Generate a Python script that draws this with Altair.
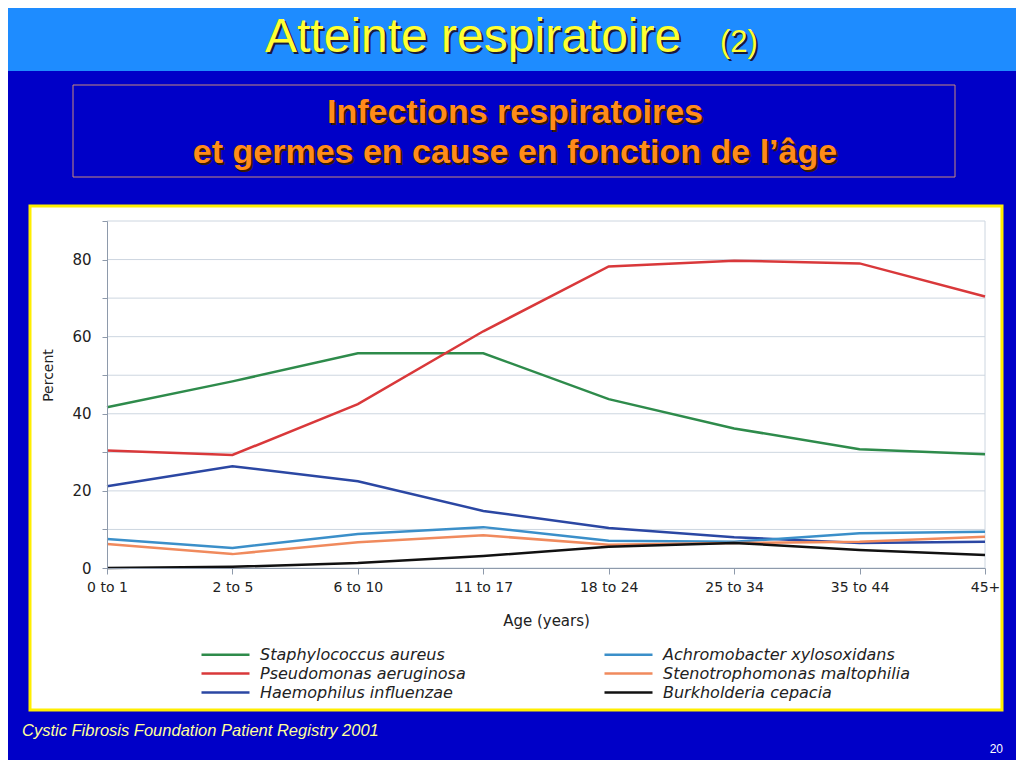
import altair as alt
import pandas as pd

ages = ["0 to 1", "2 to 5", "6 to 10", "11 to 17", "18 to 24", "25 to 34", "35 to 44", "45+"]

germs = ["Staphylococcus aureus", "Pseudomonas aeruginosa", "Haemophilus influenzae",
         "Achromobacter xylosoxidans", "Stenotrophomonas maltophilia", "Burkholderia cepacia"]
germ_colors = ["#2e8b4b", "#d9383a", "#2b47a3", "#3b8fc9", "#f08a5d", "#111111"]

staph = [41.7, 48.4, 55.7, 55.7, 43.8, 36.2, 30.8, 29.5]
pseudo = [30.5, 29.3, 42.5, 61.4, 78.2, 79.7, 79.0, 70.4]
haemo = [21.2, 26.4, 22.5, 14.8, 10.4, 8.0, 6.5, 6.8]
achromo = [7.5, 5.2, 8.8, 10.6, 7.1, 6.8, 9.0, 9.4]
steno = [6.2, 3.6, 6.7, 8.5, 6.0, 6.5, 6.8, 8.1]
burk = [0.0, 0.3, 1.3, 3.1, 5.5, 6.5, 4.7, 3.4]

grid_vals = [0, 10, 20, 30, 40, 50, 60, 70, 80, 90]

series = [staph, pseudo, haemo, achromo, steno, burk]
rows = []
for name, vals in zip(germs, series):
    for a, v in zip(ages, vals):
        rows.append({"age": a, "pct": v, "germ": name})
df = pd.DataFrame(rows)

W, H = 878, 347
PAD = {"left": 99, "top": 213, "right": 31, "bottom": 192}

one = pd.DataFrame({"k": [0]})


def rect(x, x2, y, y2, fill, stroke=None, sw=0):
    kw = dict(fill=fill, strokeWidth=sw)
    if stroke:
        kw["stroke"] = stroke
    return alt.Chart(one).mark_rect(**kw).encode(
        x=alt.value(x), x2=alt.value(x2), y=alt.value(y), y2=alt.value(y2))


def txt(t, x, y, size, color, font="Liberation Sans", weight="normal",
        style="normal", align="left"):
    return alt.Chart(pd.DataFrame({"t": [t]})).mark_text(
        align=align, baseline="alphabetic", font=font, fontSize=size,
        fontWeight=weight, fontStyle=style, color=color
    ).encode(text="t:N", x=alt.value(x), y=alt.value(y))


x_enc = alt.X("age:N", sort=ages, scale=alt.Scale(type="point", padding=0),
              axis=alt.Axis(title="Age (years)", labelAngle=0, grid=False, zindex=1,
                            labelFont="DejaVu Sans", labelFontSize=14, labelColor="#222222",
                            labelPadding=6, tickSize=6, tickColor="#8e9aab",
                            domainColor="#8e9aab", titleFont="DejaVu Sans",
                            titleFontSize=15, titleFontWeight="normal", titleColor="#222222",
                            titleY=52, titleBaseline="middle"))
y_enc = alt.Y("pct:Q", scale=alt.Scale(domain=[0, 90], nice=False),
              axis=alt.Axis(title="Percent", values=grid_vals, grid=False, zindex=1,
                            labelExpr="datum.value % 20 === 0 && datum.value < 90 ? datum.label : ''",
                            labelFont="DejaVu Sans", labelFontSize=15, labelColor="#222222",
                            labelPadding=11, tickSize=5, tickColor="#8e9aab",
                            domainColor="#8e9aab", titleFont="DejaVu Sans",
                            titleFontSize=14, titleFontWeight="normal", titleColor="#222222",
                            titleX=-59, titleY=154, titleBaseline="middle"))

band = rect(-99, 909, -213, -150, "#1e8cff")
panel = rect(-77, 895, -15, 489, "#ffffff", "#ffee00", 3)
box = rect(-34, 848, -136, -44, "#0000c8", "#c98a7a", 1)

title_sh = txt("Atteinte respiratoire", 160, -167, 48, "#1a1a3a")
title = txt("Atteinte respiratoire", 158, -169, 48, "#ffff33")
title2_sh = txt("(2)", 615, -167, 31, "#1a1a3a")
title2 = txt("(2)", 613, -169, 31, "#ffff33")

sub1_sh = txt("Infections respiratoires", 410, -96, 34, "#3a1a00", weight="bold", align="center")
sub1 = txt("Infections respiratoires", 408, -98, 34, "#ff8c1a", weight="bold", align="center")
sub2_sh = txt("et germes en cause en fonction de l\u2019\u00e2ge", 410, -56, 34, "#3a1a00",
              weight="bold", align="center")
sub2 = txt("et germes en cause en fonction de l\u2019\u00e2ge", 408, -58, 34, "#ff8c1a",
           weight="bold", align="center")

foot = txt("Cystic Fibrosis Foundation Patient Registry 2001", -85, 515, 16.5, "#ffff99",
           style="italic")
pagenum = txt("20", 896, 532, 12, "#ffffff", align="right")

grid = alt.Chart(pd.DataFrame({"pct": grid_vals})).mark_rule(
    color="#cdd6e0", strokeWidth=1).encode(y=y_enc)
edge = alt.Chart(pd.DataFrame({"age": [ages[-1]]})).mark_rule(
    color="#cdd6e0", strokeWidth=1).encode(x=x_enc)

lines = alt.Chart(df).mark_line(strokeWidth=2.5).encode(
    x=x_enc,
    y=y_enc,
    color=alt.Color("germ:N",
                    scale=alt.Scale(domain=germs, range=germ_colors),
                    legend=alt.Legend(title=None, orient="none", legendX=93, legendY=424,
                                      columns=2, columnPadding=133, rowPadding=1,
                                      padding=0,
                                      symbolType="M-1,0L5,0", symbolSize=256,
                                      symbolStrokeWidth=2.5, labelOffset=41,
                                      labelLimit=400, labelFont="DejaVu Sans",
                                      labelFontStyle="italic", labelFontSize=16,
                                      labelColor="#222222")),
)

chart = alt.layer(
    band, panel, box, title_sh, title, title2_sh, title2,
    sub1_sh, sub1, sub2_sh, sub2, foot, pagenum,
    grid, edge, lines
).properties(
    width=W, height=H,
    autosize=alt.AutoSizeParams(type="none"),
    padding=PAD,
    background="#0000c8",
).configure_view(stroke=None)

chart.save("out.html", embed_options={"renderer": "svg", "actions": False})
